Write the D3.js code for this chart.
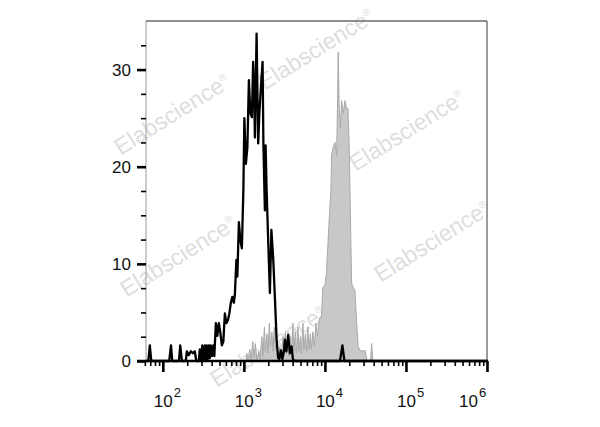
<!DOCTYPE html>
<html><head><meta charset="utf-8">
<script src="https://cdn.jsdelivr.net/npm/d3@7"></script>
<style>body{margin:0;background:#fff}svg{display:block}</style>
</head><body>
<svg id="chart" width="600" height="427"></svg>
<script>
// ---- data (intensity, event count) ----
const blackSeries = [[61.7,0],[66.2,0],[69.1,1.6],[72.1,0],[120,0],[126,1.6],[131,0],[158,0],[164,1.6],[172,0],[192,0],[198,1.0],[209,0.6],[222,1.0],[235,0.8],[248,1.0],[259,0],[278,0],[286,1.2],[295,0],[307,1.6],[316,0],[330,1.6],[340,0],[349,1.6],[359,0.2],[370,1.6],[380,0.3],[391,1.6],[403,0.5],[420,1.6],[432,0.5],[451,3.9],[471,2.6],[491,3.9],[513,2.9],[535,1.6],[558,2.0],[583,4.9],[608,3.9],[635,4.2],[662,4.9],[691,6.0],[721,6.6],[753,6.0],[774,6.8],[808,10.4],[831,8.7],[868,14.3],[905,12.4],[945,11.6],[986,17.6],[1014,25.0],[1058,20.3],[1105,22.0],[1153,28.9],[1203,25.5],[1255,25.1],[1302,30.8],[1341,27.5],[1368,23.0],[1435,33.7],[1502,22.4],[1554,25.5],[1622,28.2],[1702,30.8],[1741,22.4],[1817,15.5],[1854,22.2],[1906,17.8],[1995,12.4],[2094,7.0],[2185,13.5],[2300,10.6],[2413,6.6],[2534,2.2],[2651,0.3],[2743,0.2],[2863,1.1],[2988,0.2],[3118,1.0],[3208,2.2],[3347,1.0],[3524,2.7],[3698,0.8],[3880,1.5],[4027,0.2],[4262,0],[15320,0],[16440,1.6],[17410,0],[1e6,0]];
const graySeries = [[1058,0],[1089,0.8],[1120,0],[1186,1.2],[1220,0],[1291,2.0],[1329,0.3],[1387,1.8],[1447,0],[1532,1.0],[1576,0.2],[1668,2.5],[1716,0.5],[1791,3.5],[1843,1.0],[1923,2.8],[1978,0.8],[2064,3.9],[2124,1.5],[2216,3.0],[2280,1.0],[2379,3.5],[2448,1.2],[2555,2.0],[2666,0.5],[2782,1.5],[2904,0.3],[3031,2.5],[3118,0.5],[3253,3.0],[3347,0.8],[3493,2.0],[3594,0.5],[3751,2.5],[3858,0.6],[4027,3.9],[4143,1.0],[4324,3.0],[4448,0.8],[4642,3.5],[4775,1.0],[4983,2.5],[5128,0.8],[5351,3.9],[5505,1.2],[5745,2.8],[5910,1.0],[6166,3.5],[6346,1.2],[6622,2.8],[6813,1.2],[7110,3.0],[7420,1.5],[7743,3.9],[8080,2.5],[8432,4.0],[8676,4.5],[9054,4.5],[9447,7.6],[10000,7.8],[10430,9.0],[10890,12.0],[11370,15.0],[11860,17.6],[12100,21.2],[12660,22.0],[13290,22.5],[13950,21.2],[14270,26.0],[14600,31.8],[15020,26.0],[15540,24.0],[16080,26.8],[16920,25.5],[17660,26.8],[18540,26.0],[19230,26.0],[19950,22.0],[20350,18.0],[20940,12.0],[21360,8.0],[22480,7.5],[23460,7.3],[24630,3.9],[25770,1.5],[27050,1.1],[29450,1.0],[31180,1.1],[33300,0],[36450,0],[37720,1.8],[39140,0]];
const yTickValues = [0, 10, 20, 30];
const yMinorStep = 2.5;
const yMax = 35;
const xDomain = [62, 1e6];
const xTickExponents = [2, 3, 4, 5, 6];
const xMinorMultipliers = [2,3,4,5,6,7,8,9];
const watermark = "Elabscience";
const watermarkSpots = [[172,114],[316,49],[407,130],[178,256],[432,241],[268,346]];

// ---- layout ----
const svg = d3.select("#chart");
const L = 146, R = 487, T = 21, B = 361;
const x = d3.scaleLog().domain(xDomain).range([L, R]);
const y = d3.scaleLinear().domain([0, yMax]).range([B, T]);

// watermarks
const wm = svg.append("g");
watermarkSpots.forEach(([cx, cy]) => {
  const t = wm.append("text")
    .attr("transform", `translate(${cx},${cy}) rotate(-32)`)
    .attr("text-anchor", "middle").attr("dy", "0.35em")
    .attr("font-family", "Liberation Sans, Arial, sans-serif")
    .attr("font-size", 23).attr("fill", "#dedede");
  t.append("tspan").text(watermark);
  t.append("tspan").attr("font-size", 10).attr("dy", "-0.9em").text("®");
});

// frame
svg.append("line").attr("x1", L).attr("x2", R).attr("y1", T).attr("y2", T)
  .attr("stroke", "#6a6a6a").attr("stroke-width", 1.5);
svg.append("line").attr("x1", R).attr("x2", R).attr("y1", T).attr("y2", B)
  .attr("stroke", "#7a7a7a").attr("stroke-width", 1.5);
svg.append("line").attr("x1", L).attr("x2", L).attr("y1", T).attr("y2", B)
  .attr("stroke", "#9a9a9a").attr("stroke-width", 1);

// gray filled histogram
const area = d3.area().x(d => x(d[0])).y0(y(0)).y1(d => y(d[1]));
svg.append("path").datum(graySeries).attr("d", area)
  .attr("fill", "#c8c8c8").attr("stroke", "#a9a9a9").attr("stroke-width", 1);

// black histogram line
const line = d3.line().x(d => x(d[0])).y(d => y(d[1]));
svg.append("path").datum(blackSeries).attr("d", line)
  .attr("fill", "none").attr("stroke", "#000").attr("stroke-width", 2.3)
  .attr("stroke-linejoin", "round");

// y axis ticks
const yMinor = d3.range(yMinorStep, yMax, yMinorStep).filter(v => !yTickValues.includes(v));
const gyMinor = svg.append("g").attr("transform", `translate(${L},0)`)
  .call(d3.axisLeft(y).tickValues(yMinor).tickSize(5).tickFormat(""));
gyMinor.select(".domain").remove();
gyMinor.selectAll("line").attr("stroke", "#000").attr("stroke-width", 1.6);
const gy = svg.append("g").attr("transform", `translate(${L},0)`)
  .call(d3.axisLeft(y).tickValues(yTickValues).tickSize(9).tickPadding(6));
gy.select(".domain").remove();
gy.selectAll("line").attr("stroke", "#000").attr("stroke-width", 2.6);
gy.selectAll("text").attr("font-family", "Liberation Sans, Arial, sans-serif")
  .attr("font-size", 17).attr("fill", "#111");

// x axis
const xMajor = xTickExponents.map(e => Math.pow(10, e));
const xMinor = [];
[1, ...xTickExponents.slice(0, -1)].forEach(e => xMinorMultipliers.forEach(m => {
  const v = m * Math.pow(10, e);
  if (v >= 60 && v < 1e6) xMinor.push(v);
}));
const gxMinor = svg.append("g").attr("transform", `translate(0,${B})`)
  .call(d3.axisBottom(x).tickValues(xMinor).tickSize(5).tickFormat(""));
gxMinor.select(".domain").remove();
gxMinor.selectAll("line").attr("stroke", "#000").attr("stroke-width", 1.6);
const gx = svg.append("g").attr("transform", `translate(0,${B})`)
  .call(d3.axisBottom(x).tickValues(xMajor).tickSize(11).tickFormat(""));
gx.select(".domain").remove();
gx.selectAll("line").attr("stroke", "#000").attr("stroke-width", 2.6);
svg.append("line").attr("x1", L - 9).attr("x2", R + 1).attr("y1", B).attr("y2", B)
  .attr("stroke", "#000").attr("stroke-width", 2.6);

// x tick labels 10^n
xTickExponents.forEach((e, i) => {
  const px = x(Math.pow(10, e));
  const shift = i === xTickExponents.length - 1 ? -28 : -9;
  const t = svg.append("text").attr("x", px + shift).attr("y", 407)
    .attr("font-family", "Liberation Sans, Arial, sans-serif")
    .attr("font-size", 17).attr("fill", "#111");
  t.append("tspan").text("10");
  t.append("tspan").attr("font-size", 13).attr("dy", -10).attr("dx", 1).text(e);
});
</script>
</body></html>
